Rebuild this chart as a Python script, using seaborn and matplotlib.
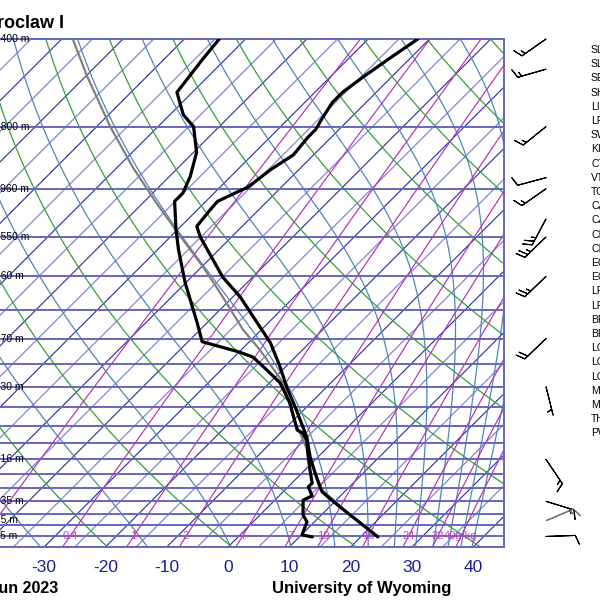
import numpy as np
import pandas as pd
import matplotlib
matplotlib.use("Agg")
import matplotlib.pyplot as plt
from matplotlib.transforms import Affine2D, blended_transform_factory
import seaborn as sns

# ---------------- data ----------------
temp_p = [1002, 927, 872, 814, 795, 745, 692, 631, 549, 501, 456, 408, 372, 330,
          301, 265, 250, 238, 221, 212, 201, 199, 183, 171, 158, 152, 144, 134,
          128, 119, 109, 100]
temp_t = [22.8, 16.6, 11.7, 6.4, 5.2, 2.1, -1.3, -5.1, -11.9, -16.5, -20.9, -26.4,
          -31.8, -38.8, -44.9, -51.9, -55.1, -57.4, -57.9, -58.1, -56.0, -55.5,
          -54.6, -53.3, -53.8, -53.8, -54.6, -55.5, -55.5, -54.6, -53.3, -51.9]

dew_p = [1002, 993, 957, 935, 905, 845, 829, 795, 781, 735, 680, 640, 619, 611,
         539, 491, 463, 436, 426, 406, 372, 309, 265, 242, 212, 204, 189, 169,
         150, 142, 128, 110, 100]
dew_t = [12.1, 10.1, 9.3, 8.8, 7.0, 4.6, 5.4, 3.3, 3.3, 0.8, -2.3, -4.6, -6.5,
         -7.8, -13.4, -18.3, -22.5, -26.9, -29.9, -37.7, -41.6, -50.1, -56.6,
         -60.2, -65.1, -65.1, -66.6, -69.5, -74.2, -77.8, -82.5, -83.7, -84.3]

parcel_p = [1002, 905, 806, 670, 575, 491, 422, 384, 324, 287, 245, 214, 181,
            150, 119, 100]
parcel_t = [22.8, 14.7, 6.0, -2.9, -10.6, -17.8, -26.9, -33.0, -42.7, -49.8,
            -59.5, -67.7, -77.5, -87.8, -99.7, -108.2]

wind_p = [100, 115, 150, 190, 200, 230, 250, 300, 400, 500, 700, 850, 925, 1000]
wind_dir = [235, 254, 231, 255, 235, 208, 226, 226, 226, 166, 146, 107, 67, 88]
wind_spd = [15, 15, 15, 10, 15, 25, 25, 25, 20, 5, 15, 15, 15, 10]
wind_grey = [False] * 12 + [True, False]

level_p = [1000, 925, 850, 700, 500, 400, 300, 250, 200, 150, 100]
level_h = ["115 m", "785 m", "1435 m", "3016 m", "5630 m", "7170 m", "9160 m",
           "10550 m", "11960 m", "13800 m", "16400 m"]

temp_ticks = [-40, -30, -20, -10, 0, 10, 20, 30, 40]

mixr_vals = [0.1, 0.4, 1, 2, 4, 7, 10, 16, 24, 32, 40]
mixr_labels = ["", "0.4", "1", "2", "4", "7", "10", "16", "24", "32", "40g/kg"]

index_names = ["SLAT", "SLON", "SELV", "SHOW", "LIFT", "LFTV", "SWET", "KINX",
               "CTOT", "VTOT", "TOTL", "CAPE", "CAPV", "CINS", "CINV", "EQLV",
               "EQTV", "LFCT", "LFCV", "BRCH", "BRCV", "LCLT", "LCLP", "LCLH",
               "MLTH", "MLMR", "THTK", "PWAT"]

title_text = "12425 EPWR Wroclaw I"
date_text = "12Z 20 Jun 2023"
credit_text = "University of Wyoming"

# ---------------- style ----------------
sns.set_theme(style="white")
plt.rcParams["font.family"] = ["Liberation Sans", "DejaVu Sans"]

W, H, DPI = 600, 600, 100
fig = plt.figure(figsize=(W / DPI, H / DPI), dpi=DPI)

px_per_deg = 6.13
zero_px = 228.0
xmin, xmax = -45, 45
bot_px = H - 547
top_px = H - 39
left_px = zero_px + xmin * px_per_deg
ax = fig.add_axes([left_px / W, bot_px / H, (xmax - xmin) * px_per_deg / W,
                   (top_px - bot_px) / H])
ax.set_yscale("log")
ax.set_xlim(xmin, xmax)
ax.set_ylim(1050, 100)

skew = Affine2D().translate(0, -bot_px).skew_deg(45, 0).translate(0, bot_px)
trans = ax.transData + skew

pp = np.geomspace(1050, 100, 300)

# isotherms
for T in np.arange(-150, 50, 5):
    dark = abs(T % 10) < 1e-6
    ax.plot([T, T], [1050, 100], transform=trans,
            color="#2a2aa0" if dark else "#8585d2",
            lw=0.8 if dark else 0.9, zorder=1)

# dry adiabats
for th in np.arange(190, 500, 20):
    ax.plot(th * (pp / 1000.0) ** 0.2857 - 273.15, pp, transform=trans,
            color="#35a035", lw=0.9, zorder=1)

# moist adiabats
Rd, cp, Lv, eps = 287.04, 1005.7, 2.501e6, 0.622


def es(Tk):
    return 6.112 * np.exp(17.67 * (Tk - 273.15) / (Tk - 29.65))


def dTdp(T, p):
    e = es(T)
    rs = eps * e / (p - e)
    return (Rd * T + Lv * rs) / (cp + Lv * Lv * rs * eps / (Rd * T * T)) / p


def thetae(T, p):
    e = es(T)
    r = eps * e / (p - e)
    th = T * (1000.0 / p) ** (0.2854 * (1 - 0.28 * r))
    return th * np.exp((3376.0 / T - 2.54) * r * (1 + 0.81 * r))


for the in np.arange(220, 461, 20):
    lo, hi = 180.0, 330.0
    for _ in range(60):
        mid = 0.5 * (lo + hi)
        if thetae(mid, 1050.0) < the:
            lo = mid
        else:
            hi = mid
    T = 0.5 * (lo + hi)
    Ts = [T]
    for i in range(len(pp) - 1):
        h = pp[i + 1] - pp[i]
        p = pp[i]
        k1 = dTdp(T, p)
        k2 = dTdp(T + 0.5 * h * k1, p + 0.5 * h)
        k3 = dTdp(T + 0.5 * h * k2, p + 0.5 * h)
        k4 = dTdp(T + h * k3, p + h)
        T = T + h * (k1 + 2 * k2 + 2 * k3 + k4) / 6.0
        Ts.append(T)
    ax.plot(np.array(Ts) - 273.15, pp, transform=trans, color="#4f86b8",
            lw=0.9, zorder=1)


# mixing ratio lines
def td_from_w(w, p):
    e = w * p / (622.0 + w)
    a = np.log(e / 6.112)
    return 243.5 * a / (17.67 - a)


for w, lab in zip(mixr_vals, mixr_labels):
    ax.plot(td_from_w(w, pp), pp, transform=trans, color="#b52fb5", lw=0.85,
            zorder=1)
    if lab:
        ax.text(td_from_w(w, 1000.0), 1000, lab, transform=trans, ha="center",
                va="center", fontsize=8, color="#bb44bb", zorder=4)

# isobars
for p in range(100, 1051, 50):
    ax.axhline(p, color="#6666be", lw=1.4, zorder=1.5)

# profiles
df_parcel = pd.DataFrame({"T": parcel_t, "p": parcel_p})
df_dew = pd.DataFrame({"T": dew_t, "p": dew_p})
df_temp = pd.DataFrame({"T": temp_t, "p": temp_p})
sns.lineplot(data=df_parcel, x="T", y="p", sort=False, estimator=None, ax=ax,
             color="#808080", lw=1.6, transform=trans, zorder=3)
sns.lineplot(data=df_dew, x="T", y="p", sort=False, estimator=None, ax=ax,
             color="black", lw=2.3, transform=trans, zorder=4)
sns.lineplot(data=df_temp, x="T", y="p", sort=False, estimator=None, ax=ax,
             color="black", lw=2.3, transform=trans, zorder=4)

ax.set_xlim(xmin, xmax)
ax.set_ylim(1050, 100)
ax.set_xlabel("")
ax.set_ylabel("")
ax.set_yticks([])
ax.yaxis.set_minor_locator(matplotlib.ticker.NullLocator())
ax.set_xticks(temp_ticks)
ax.set_xticklabels([str(t) for t in temp_ticks])
ax.tick_params(axis="x", length=0, pad=9, labelsize=12.5, labelcolor="#1c1c96")
for s in ax.spines.values():
    s.set_color("#6666be")
    s.set_linewidth(1.4)

# height labels at left edge
bt = blended_transform_factory(fig.transFigure, ax.transData)
for p, lab in zip(level_p, level_h):
    ax.text(-10.5 / W, p, lab, transform=bt, ha="left", va="center",
            fontsize=7.5, color="black", clip_on=False, zorder=5)

# wind barbs
bax = fig.add_axes([506 / W, bot_px / H, 80 / W, (top_px - bot_px) / H])
bax.set_yscale("log")
bax.set_xlim(0, 1)
bax.set_ylim(1050, 100)
bax.axis("off")
d = np.deg2rad(np.array(wind_dir, dtype=float))
s = np.array(wind_spd, dtype=float)
u = -s * np.sin(d)
v = -s * np.cos(d)
wp = np.array(wind_p, dtype=float)
g = np.array(wind_grey)
for mask, col in [(~g, "black"), (g, "#707070")]:
    bax.barbs(np.full(mask.sum(), 0.5), wp[mask], u[mask], v[mask],
              length=6.5, color=col, linewidth=0.8, clip_on=False,
              sizes=dict(spacing=0.14, height=0.3, width=0.25, emptybarb=0.0))

# right-hand index list
for k, name in enumerate(index_names):
    fig.text(591 / W, 1 - (50 + 14.2 * k) / H, name, fontsize=7.5,
             va="center", ha="left", color="black")

# titles
fig.text(64 / W, 1 - 28 / H, title_text, ha="right", va="baseline",
         fontsize=13, fontweight="bold", color="black")
fig.text(58 / W, 1 - 593 / H, date_text, ha="right", va="baseline",
         fontsize=11.5, fontweight="bold", color="black")
fig.text(361.5 / W, 1 - 593 / H, credit_text, ha="center", va="baseline",
         fontsize=12, fontweight="bold", color="black")

fig.savefig("out.png", dpi=DPI, facecolor="white")
